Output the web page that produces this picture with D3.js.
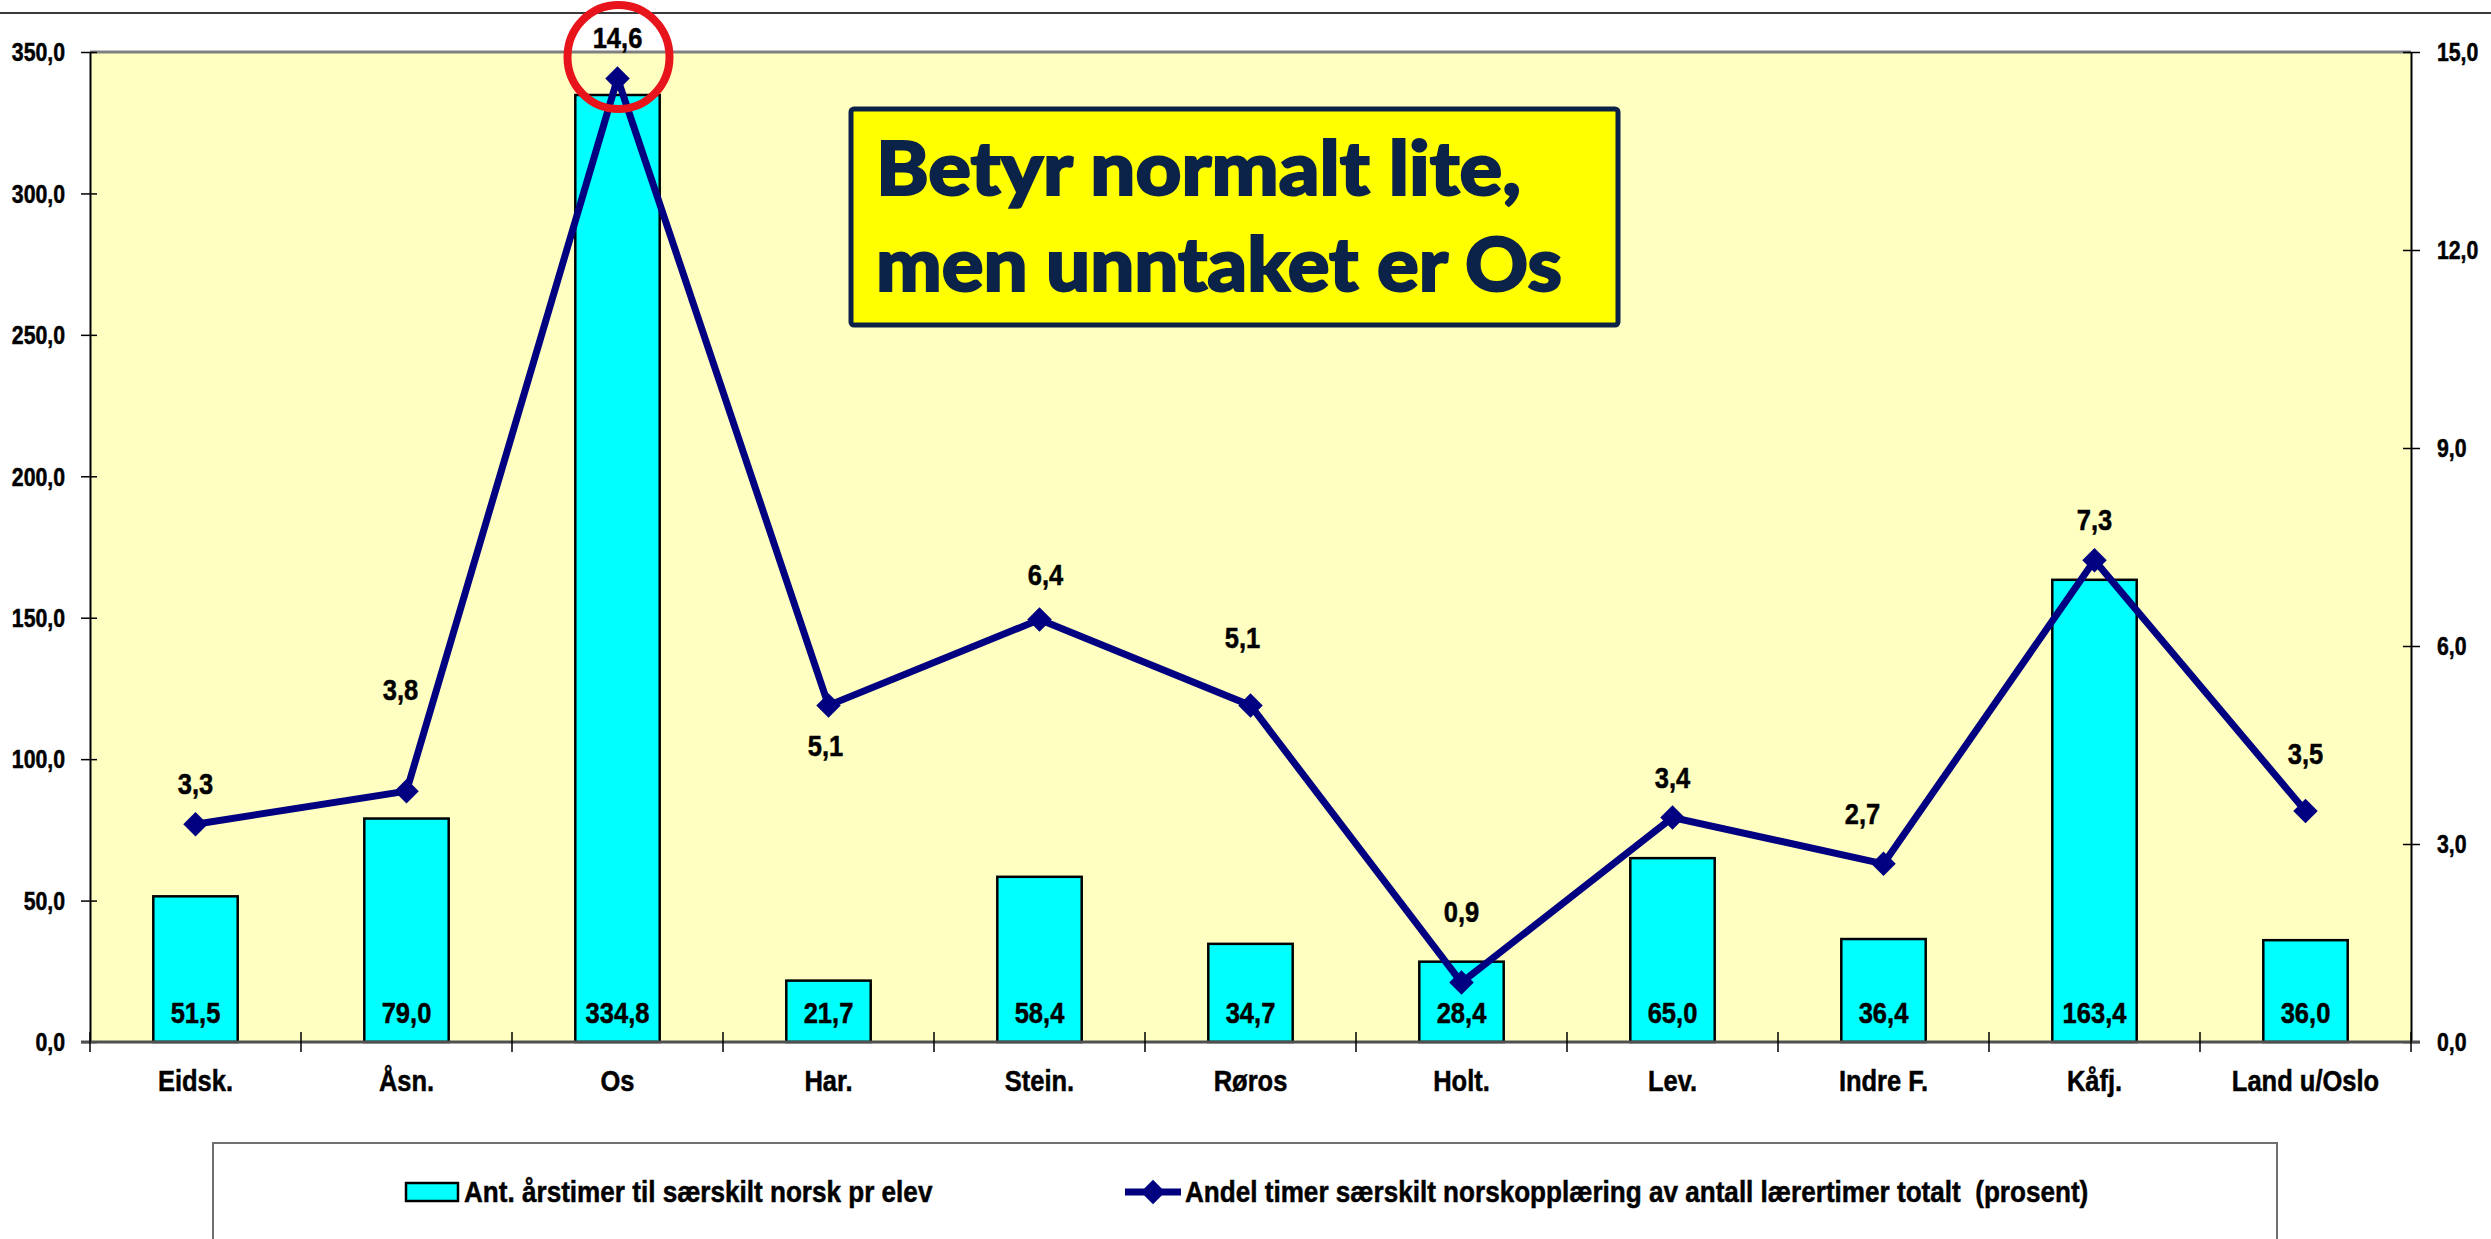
<!DOCTYPE html>
<html>
<head>
<meta charset="utf-8">
<script src="https://cdn.jsdelivr.net/npm/d3@7"></script>
<style>
    body { margin: 0; background: #fff; }
    svg { display: block; }
    .lbl { font-family: "Liberation Sans", Arial, sans-serif; font-weight: bold; fill: #000; stroke: #000; stroke-width: 0.5px; }
</style>
</head>
<body>
<div id="chart"></div>
<script>
    const categories = ['Eidsk.', 'Åsn.', 'Os', 'Har.', 'Stein.', 'Røros', 'Holt.', 'Lev.', 'Indre F.', 'Kåfj.', 'Land u/Oslo'];
    const hours = [51.5, 79.0, 334.8, 21.7, 58.4, 34.7, 28.4, 65.0, 36.4, 163.4, 36.0];
    const share = [3.3, 3.8, 14.6, 5.1, 6.4, 5.1, 0.9, 3.4, 2.7, 7.3, 3.5];
    const leftTicks = [0, 50, 100, 150, 200, 250, 300, 350];
    const rightTicks = [0, 3, 6, 9, 12, 15];
    const seriesNames = ['Ant. årstimer til særskilt norsk pr elev',
        'Andel timer særskilt norskopplæring av antall lærertimer totalt  (prosent)'];
    const note = ['Betyr normalt lite,', 'men unntaket er Os'];
    // labels on the line were moved by hand in the original: [dx, baseline gap above marker]
    const shareLabelNudge = [[0, 30], [-6, 91], [0, 30], [-3, -51], [6, 35], [-8, 57], [0, 61], [0, 30], [-21, 40], [0, 30], [0, 47]];

    const W = 2491, H = 1239;
    const plot = { left: 90, right: 2411, top: 52, bottom: 1042 };
    const SQ = 0.85; // the original uses a narrow bold face

    const nb = d3.formatLocale({ decimal: ',', thousands: '\u00a0', grouping: [3], currency: ['', ''] });
    const fmt = nb.format('.1f');

    const x = d3.scaleBand().domain(categories).range([plot.left, plot.right]).padding(0);
    const yL = d3.scaleLinear().domain([0, 350]).range([plot.bottom, plot.top]);
    const yR = d3.scaleLinear().domain([0, 15]).range([plot.bottom, plot.top]);
    const cx = i => x(categories[i]) + x.bandwidth() / 2;

    const svg = d3.select('#chart').append('svg')
        .attr('width', W)
        .attr('height', H);

    svg.append('rect').attr('width', W).attr('height', H).attr('fill', '#fff');

    // thin rule across the top
    svg.append('line')
        .attr('x1', 0).attr('x2', W).attr('y1', 13).attr('y2', 13)
        .attr('stroke', '#3a3a3a').attr('stroke-width', 2);

    // plot area
    svg.append('rect')
        .attr('x', plot.left).attr('y', plot.top)
        .attr('width', plot.right - plot.left).attr('height', plot.bottom - plot.top)
        .attr('fill', '#ffffc2');

    svg.append('line')
        .attr('x1', plot.left).attr('x2', plot.right).attr('y1', plot.top).attr('y2', plot.top)
        .attr('stroke', '#808080').attr('stroke-width', 3);

    // bars
    const bw = x.bandwidth() * 0.4;
    svg.append('g').selectAll('rect')
        .data(hours)
        .join('rect')
        .attr('x', (d, i) => cx(i) - bw / 2)
        .attr('y', d => yL(d))
        .attr('width', bw)
        .attr('height', d => yL(0) - yL(d))
        .attr('fill', '#00ffff')
        .attr('stroke', '#000')
        .attr('stroke-width', 2.5);

    // left axis
    const gL = svg.append('g')
        .attr('transform', `translate(${plot.left},0)`)
        .call(d3.axisLeft(yL).tickValues(leftTicks).tickFormat(fmt).tickSize(9).tickSizeOuter(0));
    gL.select('.domain').attr('stroke', '#000').attr('stroke-width', 2);
    gL.selectAll('.tick line').attr('x1', 7).attr('stroke', '#000').attr('stroke-width', 1.5);
    gL.selectAll('.tick text')
        .attr('class', 'lbl').attr('font-size', 25)
        .attr('x', null).attr('dy', '0.35em')
        .attr('text-anchor', 'end')
        .attr('transform', `translate(-25,0) scale(${SQ},1)`);

    // right axis
    const gR = svg.append('g')
        .attr('transform', `translate(${plot.right},0)`)
        .call(d3.axisRight(yR).tickValues(rightTicks).tickFormat(fmt).tickSize(9).tickSizeOuter(0));
    gR.select('.domain').attr('stroke', '#000').attr('stroke-width', 2);
    gR.selectAll('.tick line').attr('x1', -8).attr('stroke', '#000').attr('stroke-width', 1.5);
    gR.selectAll('.tick text')
        .attr('class', 'lbl').attr('font-size', 25)
        .attr('x', null).attr('dy', '0.35em')
        .attr('text-anchor', 'start')
        .attr('transform', `translate(26,0) scale(${SQ},1)`);

    // bottom axis
    const gB = svg.append('g')
        .attr('transform', `translate(0,${plot.bottom})`)
        .call(d3.axisBottom(x).tickSize(0).tickSizeOuter(0));
    gB.select('.domain').attr('stroke', '#505050').attr('stroke-width', 3)
        .attr('d', `M${plot.left - 9},0H${plot.right + 9}`);
    gB.selectAll('.tick text')
        .attr('class', 'lbl').attr('font-size', 30)
        .attr('y', null).attr('dy', null)
        .attr('transform', `translate(0,49) scale(${SQ},1)`);
    const bounds = categories.map(c => x(c)).concat([plot.right]);
    gB.selectAll('line.bound')
        .data(bounds)
        .join('line')
        .attr('class', 'bound')
        .attr('x1', d => d).attr('x2', d => d)
        .attr('y1', -10).attr('y2', 10)
        .attr('stroke', '#000').attr('stroke-width', 1.5);

    // bar value labels
    svg.append('g').selectAll('text')
        .data(hours)
        .join('text')
        .attr('class', 'lbl')
        .attr('font-size', 30)
        .attr('text-anchor', 'middle')
        .attr('transform', (d, i) => `translate(${cx(i)},${plot.bottom - 19}) scale(${SQ},1)`)
        .text(d => fmt(d));

    // line series
    const line = d3.line()
        .x((d, i) => cx(i))
        .y(d => yR(d));
    svg.append('path')
        .datum(share)
        .attr('d', line)
        .attr('fill', 'none')
        .attr('stroke', '#000080')
        .attr('stroke-width', 7);

    const diamond = d3.symbol(d3.symbolSquare, 300);
    svg.append('g').selectAll('path')
        .data(share)
        .join('path')
        .attr('d', diamond)
        .attr('transform', (d, i) => `translate(${cx(i)},${yR(d)}) rotate(45)`)
        .attr('fill', '#000080');

    svg.append('g').selectAll('text')
        .data(share)
        .join('text')
        .attr('class', 'lbl')
        .attr('font-size', 30)
        .attr('text-anchor', 'middle')
        .attr('transform', (d, i) => `translate(${cx(i) + shareLabelNudge[i][0]},${yR(d) - shareLabelNudge[i][1]}) scale(${SQ},1)`)
        .text(d => fmt(d));

    // red ring round the Os point
    svg.append('ellipse')
        .attr('cx', cx(2) + 1).attr('cy', 57)
        .attr('rx', 51).attr('ry', 52)
        .attr('fill', 'none')
        .attr('stroke', '#e8141b')
        .attr('stroke-width', 8);

    // call-out box
    const box = svg.append('g');
    box.append('rect')
        .attr('x', 851).attr('y', 109)
        .attr('width', 767).attr('height', 216)
        .attr('rx', 3)
        .attr('fill', '#ffff00')
        .attr('stroke', '#0c2148')
        .attr('stroke-width', 5);
    box.selectAll('text')
        .data(note)
        .join('text')
        .attr('x', 876)
        .attr('y', (d, i) => 195 + i * 96)
        .attr('font-family', 'Lato, "Open Sans", sans-serif')
        .attr('font-weight', 900)
        .attr('font-size', 74)
        .attr('fill', '#0b2249')
        .attr('stroke', '#0b2249')
        .attr('stroke-width', 2)
        .attr('textLength', (d, i) => i === 0 ? 645 : 686)
        .attr('lengthAdjust', 'spacingAndGlyphs')
        .text(d => d);

    // legend
    const leg = svg.append('g');
    leg.append('rect')
        .attr('x', 213).attr('y', 1143)
        .attr('width', 2064).attr('height', 140)
        .attr('fill', '#fff')
        .attr('stroke', '#707070')
        .attr('stroke-width', 2);
    leg.append('rect')
        .attr('x', 406).attr('y', 1183)
        .attr('width', 52).attr('height', 18)
        .attr('fill', '#00ffff')
        .attr('stroke', '#000')
        .attr('stroke-width', 2.5);
    leg.append('line')
        .attr('x1', 1125).attr('x2', 1181).attr('y1', 1192).attr('y2', 1192)
        .attr('stroke', '#000080').attr('stroke-width', 7);
    leg.append('path')
        .attr('d', diamond)
        .attr('transform', 'translate(1153,1192) rotate(45)')
        .attr('fill', '#000080');
    leg.selectAll('text')
        .data(seriesNames)
        .join('text')
        .attr('class', 'lbl')
        .attr('font-size', 30)
        .style('white-space', 'pre')
        .attr('transform', (d, i) => `translate(${i === 0 ? 464 : 1185},1202) scale(0.87,1)`)
        .text(d => d);
</script>
</body>
</html>
